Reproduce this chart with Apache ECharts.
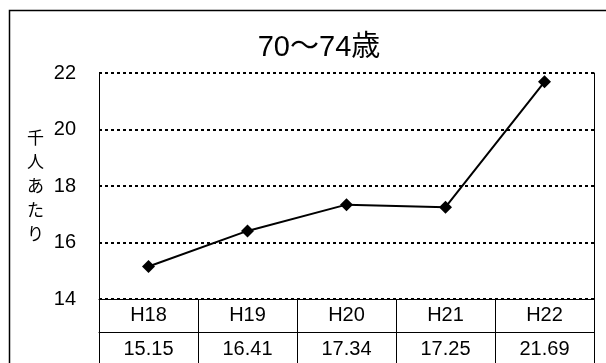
<!DOCTYPE html>
<html>
<head>
<meta charset="utf-8">
<script src="https://cdn.jsdelivr.net/npm/echarts@6/dist/echarts.min.js"></script>
<style>html,body{margin:0;padding:0;background:#fff;}#c{width:606px;height:363px;}</style>
</head>
<body>
<div id="c"></div>
<script>
const categories = ['H18', 'H19', 'H20', 'H21', 'H22'];
const values = [15.15, 16.41, 17.34, 17.25, 21.69];
const valueLabels = ['15.15', '16.41', '17.34', '17.25', '21.69'];
const yMin = 14, yMax = 22, yStep = 2;
const titleText = '70〜74歳';
const yName = '千人あたり';

const LAT = '"Liberation Sans", Arial, "Noto Sans CJK JP", sans-serif';
const JP = '"Noto Sans CJK JP", "Liberation Sans", sans-serif';

const chart = echarts.init(document.getElementById('c'), null, {renderer: 'canvas'});
chart.setOption({
  animation: false,
  backgroundColor: '#fff',
  title: {
    text: titleText,
    left: 314, top: 28, textAlign: 'center',
    textStyle: {fontFamily: LAT, fontSize: 29, fontWeight: 'normal', color: '#000'}
  },
  graphic: [{
    type: 'rect', shape: {x: 9.5, y: 10.5, width: 700, height: 400},
    style: {fill: 'none', stroke: '#000', lineWidth: 1.5}, silent: true, z: 100
  }],
  grid: {left: 99, right: 12, top: 73, bottom: 64, containLabel: false},
  xAxis: [{
    type: 'category', data: categories, position: 'bottom', boundaryGap: true,
    axisLine: {show: true, lineStyle: {color: '#000', width: 1}},
    axisTick: {show: true, length: 66, lineStyle: {color: '#000', width: 1}},
    axisLabel: {margin: 6, fontSize: 20, color: '#000', fontFamily: LAT},
    splitLine: {show: false}
  }, {
    type: 'category', data: valueLabels, position: 'bottom', offset: 33, boundaryGap: true,
    axisLine: {show: true, lineStyle: {color: '#000', width: 1}},
    axisTick: {show: false},
    axisLabel: {margin: 7, fontSize: 20, color: '#000', fontFamily: LAT},
    splitLine: {show: false}
  }],
  yAxis: [{
    type: 'value', min: yMin, max: yMax, interval: yStep, position: 'left',
    axisLine: {show: true, lineStyle: {color: '#000', width: 1}},
    axisTick: {show: false},
    axisLabel: {margin: 23, fontSize: 20, color: '#000', fontFamily: LAT},
    splitLine: {show: true, lineStyle: {color: '#000', width: 2, type: [3, 3]}},
    name: yName.split('').join('\n'), nameLocation: 'middle', nameRotate: 0, nameGap: 55,
    nameTextStyle: {fontFamily: JP, fontSize: 17, color: '#000', lineHeight: 24}
  }, {
    type: 'value', min: yMin, max: yMax, interval: yStep, position: 'right',
    axisLine: {show: true, lineStyle: {color: '#000', width: 1}},
    axisTick: {show: false}, axisLabel: {show: false}, splitLine: {show: false}
  }],
  series: [{
    type: 'line', data: values, xAxisIndex: 0, yAxisIndex: 0,
    symbol: 'diamond', symbolSize: 13,
    lineStyle: {color: '#000', width: 2},
    itemStyle: {color: '#000'},
    z: 10
  }]
});
</script>
</body>
</html>
